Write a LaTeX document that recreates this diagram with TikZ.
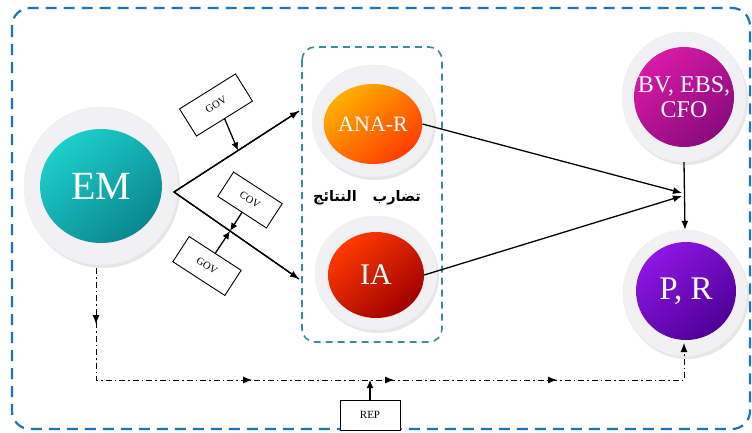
\documentclass[tikz,border=0pt]{standalone}
\usepackage{fontspec}
\setmainfont{Liberation Serif}
\newfontfamily\arabicfont[Script=Arabic]{DejaVu Sans}
\TeXXeTstate=1
\usetikzlibrary{shapes.geometric,arrows.meta,shadows,decorations.markings}
\definecolor{borderblue}{HTML}{1E73BE}
\definecolor{groupteal}{HTML}{3C8C9C}
\definecolor{ringgray}{HTML}{F1F1F3}
\definecolor{emA}{HTML}{1CCFCB}
\definecolor{emB}{HTML}{0A8790}
\definecolor{anaA}{HTML}{FFB000}
\definecolor{anaB}{HTML}{FF3C00}
\definecolor{iaA}{HTML}{FF3A00}
\definecolor{iaB}{HTML}{A00000}
\definecolor{bvA}{HTML}{D81AA8}
\definecolor{bvB}{HTML}{8A0A7C}
\definecolor{prA}{HTML}{8E16E2}
\definecolor{prB}{HTML}{4E0098}
\begin{document}
\begin{tikzpicture}[x=1pt,y=-1pt,
  outerborder/.style={draw=borderblue,line width=2.2pt,dash pattern=on 11pt off 7pt,rounded corners=18pt},
  groupbox/.style={draw=groupteal,line width=1.6pt,dash pattern=on 7pt off 5pt,rounded corners=13pt},
  ring/.style={ellipse,fill=ringgray,draw=gray!15,line width=0.4pt,inner sep=0pt,
    drop shadow={shadow xshift=2pt,shadow yshift=-3pt,opacity=0.2,fill=gray}},
  core/.style={ellipse,inner sep=0pt,text=white,align=center},
  arr/.style={line width=1.3pt,-{Latex[length=9pt,width=7pt]}},
  tagbox/.style={draw,line width=0.9pt,fill=white,minimum width=62pt,minimum height=30pt,inner sep=0pt,font=\fontsize{10.5}{10.5}\selectfont},
  dd/.style={line width=0.9pt,dash pattern=on 6pt off 3pt on 1.5pt off 3pt}
]
\useasboundingbox (0,0) rectangle (752,432);
\draw[outerborder] (12,8) rectangle (750,429);
\draw[groupbox] (302,47) rectangle (442,342);

% EM
\node[ring,minimum width=154,minimum height=158] (emo) at (101,186) {};
\node[core,minimum width=122,minimum height=114,top color=emA,bottom color=emB,shading angle=40,
  font=\fontsize{40}{40}\selectfont] (em) at (101,186) {EM};
% ANA-R
\node[ring,minimum width=122,minimum height=112] (anao) at (373,121) {};
\node[core,minimum width=98,minimum height=80,top color=anaA,bottom color=anaB,shading angle=40,
  font=\fontsize{22}{22}\selectfont] (ana) at (373,124) {ANA-R};
% IA
\node[ring,minimum width=122,minimum height=114] (iao) at (376,273) {};
\node[core,minimum width=96,minimum height=86,top color=iaA,bottom color=iaB,shading angle=40,
  font=\fontsize{30}{30}\selectfont] (ia) at (376,275) {IA};
% BV
\node[ring,minimum width=124,minimum height=130] (bvo) at (684,97) {};
\node[core,minimum width=100,minimum height=100,top color=bvA,bottom color=bvB,shading angle=40] (bv) at (684,97) {};
\node[text=white,align=center,inner sep=0pt,font=\fontsize{24}{25}\selectfont] (bvt) at (bv.center) {BV, EBS,\\CFO};
% P,R
\node[ring,minimum width=124,minimum height=126] (pro) at (685,293) {};
\node[core,minimum width=100,minimum height=98,top color=prA,bottom color=prB,shading angle=40,
  font=\fontsize{33}{33}\selectfont] (pr) at (686,291) {P, R};

% Arabic label
\node[font=\arabicfont\bfseries\fontsize{14.5}{14.5}\selectfont] (conf) at (367,198) {\beginR تضارب\hspace{16pt}النتائج\endR};

% EM fan-out
\coordinate (emr) at (174,192);
\coordinate (t1) at (299,111);
\coordinate (t2) at (299,279);
\draw[line width=1.3pt] (t1) -- (emr) -- (t2);
\draw[arr] (emr) -- (t1);
\draw[arr] (emr) -- (t2);
\coordinate (p1) at (238,150.5);
\coordinate (p2) at (230,231);

\node[tagbox,rotate=32,minimum width=66pt,minimum height=32pt] (gov1) at (216,105) {GOV};
\node[tagbox,rotate=-33,minimum width=58pt,minimum height=29pt] (cov) at (250,200) {COV};
\node[tagbox,rotate=-33] (gov2) at (207,266) {GOV};
\draw[line width=1.3pt,-{Latex[length=8pt,width=7pt]}] (gov1.south) -- (p1);
\draw[line width=1.3pt,-{Latex[length=8pt,width=7pt]}] (cov.south) -- (p2);
\draw[line width=1.3pt,-{Latex[length=8pt,width=7pt]}] (gov2.north) -- (p2);

% to right side
\coordinate (c1) at (682,193);
\coordinate (c2) at (682,196);
\draw[line width=1.3pt,-{Latex[length=9pt,width=7pt]}] (ana.east) -- (c1);
\draw[line width=1.3pt,-{Latex[length=9pt,width=7pt]}] (ia.east) -- (c2);
\draw[arr] (bvo.south) -- (pro.north);

% bottom dash-dot feedback
\coordinate (emb) at (96,268);
\coordinate (bl) at (96,380);
\coordinate (br) at (684,380);
\coordinate (prb) at (684,343);
\draw[dd,-{Latex[length=9pt,width=7pt]},
  postaction={decorate},
  decoration={markings,
    mark=at position 56pt with {\arrow{Latex[length=9pt,width=7pt]}},
    mark=at position 268pt with {\arrow{Latex[length=9pt,width=7pt]}},
    mark=at position 410pt with {\arrow{Latex[length=9pt,width=7pt]}},
    mark=at position 573pt with {\arrow{Latex[length=9pt,width=7pt]}}}]
  (emb) -- (bl) -- (br) -- (prb);

% REP
\node[tagbox,minimum width=60pt,minimum height=30pt,font=\fontsize{11}{11}\selectfont] (rep) at (370,415) {REP};
\coordinate (repl) at (370,380);
\draw[line width=1.3pt,-{Latex[length=8pt,width=7pt]}] (rep.north) -- (repl);
\end{tikzpicture}
\end{document}
